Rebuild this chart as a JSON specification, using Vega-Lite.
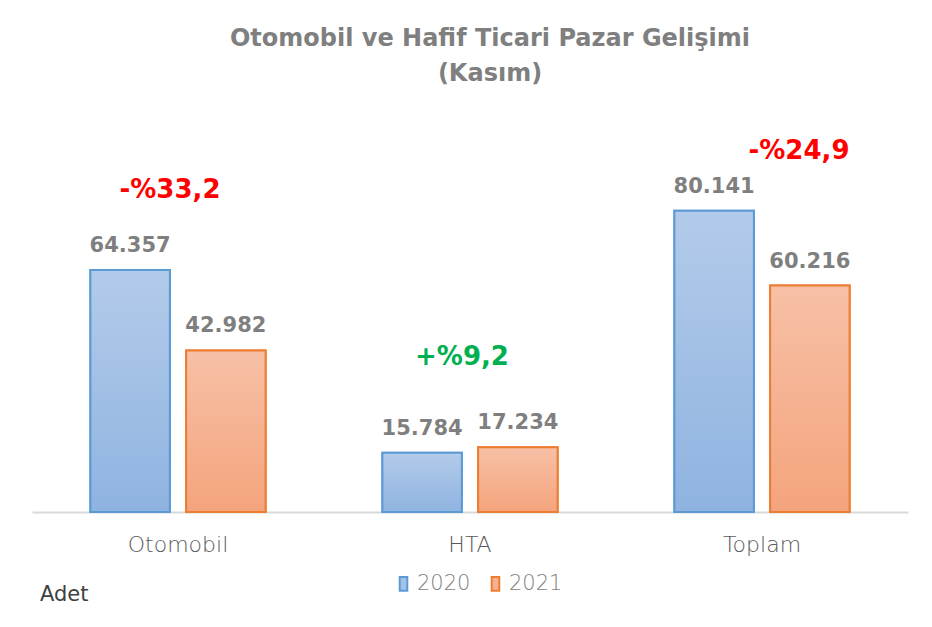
{
  "$schema": "https://vega.github.io/schema/vega-lite/v6.json",
  "width": 876,
  "height": 376,
  "padding": {"left": 32, "top": 27, "right": 24, "bottom": 10},
  "background": "white",
  "config": {
    "view": {"stroke": null},
    "locale": {"number": {"decimal": ",", "thousands": ".", "grouping": [3], "currency": ["", " TL"]}},
    "font": "DejaVu Sans"
  },
  "title": {
    "text": ["Otomobil ve Hafif Ticari Pazar Gelişimi", "(Kasım)"],
    "fontSize": 24,
    "fontWeight": "bold",
    "color": "#7f7f7f",
    "lineHeight": 35,
    "anchor": "middle",
    "dx": 20,
    "offset": 50
  },
  "datasets": {
    "adetler": [
      {"kategori": "Otomobil", "yil": "2020", "adet": 64357},
      {"kategori": "Otomobil", "yil": "2021", "adet": 42982},
      {"kategori": "HTA", "yil": "2020", "adet": 15784},
      {"kategori": "HTA", "yil": "2021", "adet": 17234},
      {"kategori": "Toplam", "yil": "2020", "adet": 80141},
      {"kategori": "Toplam", "yil": "2021", "adet": 60216}
    ],
    "degisim": [
      {"kategori": "Otomobil", "etiket": "-%33,2", "degisim": -33.2},
      {"kategori": "HTA", "etiket": "+%9,2", "degisim": 9.2},
      {"kategori": "Toplam", "etiket": "-%24,9", "degisim": -24.9}
    ]
  },
  "data": {"name": "adetler"},
  "encoding": {
    "x": {
      "field": "kategori",
      "type": "nominal",
      "sort": ["Otomobil", "HTA", "Toplam"],
      "scale": {"paddingInner": 0.4, "paddingOuter": 0.2},
      "axis": {
        "title": null,
        "labelAngle": 0,
        "labelFontSize": 22,
        "labelFontWeight": 300,
        "labelColor": "#595959",
        "labelPadding": 22,
        "ticks": false,
        "domainColor": "#d9d9d9",
        "domainWidth": 2,
        "grid": false
      }
    },
    "y": {
      "field": "adet",
      "type": "quantitative",
      "scale": {"domain": [0, 100000], "nice": false},
      "axis": null
    }
  },
  "layer": [
    {
      "mark": {"type": "bar", "strokeWidth": 2},
      "encoding": {
        "xOffset": {"field": "yil", "type": "nominal", "scale": {"paddingInner": 0.17}},
        "fill": {
          "field": "yil",
          "type": "nominal",
          "scale": {"domain": ["2020", "2021"], "range": ["#a4c1e7", "#f5b091"]},
          "legend": {
            "title": "Adet",
            "orient": "none",
            "legendX": 8,
            "legendY": 437,
            "direction": "horizontal",
            "titleOrient": "left",
            "titlePadding": 304,
            "titleFontSize": 21,
            "titleFontWeight": "normal",
            "titleColor": "#404040",
            "titleBaseline": "top",
            "labelFontSize": 21,
            "labelFontWeight": 300,
            "labelColor": "#7f7f7f",
            "labelOffset": 3,
            "columnPadding": 14,
            "symbolType": "M-0.55,-1H0.55V1H-0.55Z",
            "symbolSize": 190,
            "symbolStrokeWidth": 2
          }
        },
        "stroke": {
          "field": "yil",
          "type": "nominal",
          "scale": {"domain": ["2020", "2021"], "range": ["#5b9bd5", "#ed7d31"]}
        }
      }
    },
    {
      "transform": [{"filter": "datum.yil === '2020'"}],
      "mark": {
        "type": "bar",
        "stroke": "#5b9bd5",
        "strokeWidth": 2,
        "fill": {
          "gradient": "linear", "x1": 0, "y1": 0, "x2": 0, "y2": 1,
          "stops": [{"offset": 0, "color": "#b3cbea"}, {"offset": 1, "color": "#8fb3e0"}]
        }
      },
      "encoding": {"xOffset": {"field": "yil", "type": "nominal"}}
    },
    {
      "transform": [{"filter": "datum.yil === '2021'"}],
      "mark": {
        "type": "bar",
        "stroke": "#ed7d31",
        "strokeWidth": 2,
        "fill": {
          "gradient": "linear", "x1": 0, "y1": 0, "x2": 0, "y2": 1,
          "stops": [{"offset": 0, "color": "#f7c0a6"}, {"offset": 1, "color": "#f4a47d"}]
        }
      },
      "encoding": {"xOffset": {"field": "yil", "type": "nominal"}}
    },
    {
      "mark": {"type": "text", "baseline": "bottom", "dy": -14, "fontSize": 21, "fontWeight": "bold", "color": "#7f7f7f"},
      "encoding": {
        "xOffset": {"field": "yil", "type": "nominal"},
        "text": {"field": "adet", "type": "quantitative", "format": ",.0f"}
      }
    },
    {
      "data": {"name": "degisim"},
      "transform": [
        {"lookup": "kategori", "from": {"data": {"name": "adetler"}, "key": "kategori", "fields": ["adet"]}},
        {"filter": "datum.kategori === 'Otomobil'"}
      ],
      "mark": {"type": "text", "baseline": "middle", "dy": -160, "dx": -8, "fontSize": 26, "fontWeight": "bold", "color": "#ff0000"},
      "encoding": {
        "text": {"field": "etiket", "type": "nominal"}
      }
    },
    {
      "data": {"name": "degisim"},
      "transform": [
        {"lookup": "kategori", "from": {"data": {"name": "adetler"}, "key": "kategori", "fields": ["adet"]}},
        {"filter": "datum.kategori === 'HTA'"}
      ],
      "mark": {"type": "text", "baseline": "middle", "dy": -90, "dx": -8, "fontSize": 26, "fontWeight": "bold", "color": "#00b050"},
      "encoding": {
        "text": {"field": "etiket", "type": "nominal"}
      }
    },
    {
      "data": {"name": "degisim"},
      "transform": [
        {"lookup": "kategori", "from": {"data": {"name": "adetler"}, "key": "kategori", "fields": ["adet"]}},
        {"filter": "datum.kategori === 'Toplam'"}
      ],
      "mark": {"type": "text", "baseline": "middle", "dy": -135, "dx": 37, "fontSize": 26, "fontWeight": "bold", "color": "#ff0000"},
      "encoding": {
        "text": {"field": "etiket", "type": "nominal"}
      }
    }
  ]
}
